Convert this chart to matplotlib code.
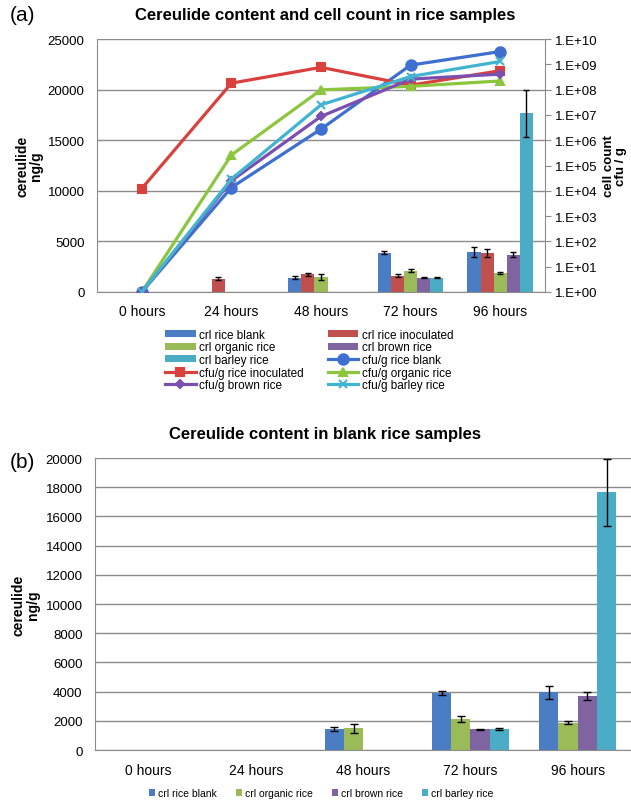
# -*- coding: utf-8 -*-
"""
Cereulide content and cell count in rice samples - two panel Excel-style chart.
"""
import numpy as np
import matplotlib; matplotlib.use("Agg")
import matplotlib.pyplot as plt
from matplotlib.ticker import FixedLocator, FuncFormatter

plt.rcParams["font.family"] = ["Liberation Sans", "DejaVu Sans"]

# ---- data ----
HOURS = ["0 hours", "24 hours", "48 hours", "72 hours", "96 hours"]

# cereulide ng/g (bars) and error bars
CRL_BLANK = [0, 0, 1420, 3900, 3950]
CRL_INOC = [0, 1320, 1750, 1590, 3830]
CRL_ORGANIC = [0, 0, 1480, 2120, 1870]
CRL_BROWN = [0, 0, 0, 1420, 3700]
CRL_BARLEY = [0, 0, 0, 1420, 17650]
ERR_BLANK = [0, 0, 150, 130, 450]
ERR_INOC = [0, 130, 170, 150, 400]
ERR_ORGANIC = [0, 0, 320, 180, 90]
ERR_BROWN = [0, 0, 0, 50, 280]
ERR_BARLEY = [0, 0, 0, 80, 2300]

# cell count cfu/g (lines, log axis)
CFU_BLANK = [1, 1.35e4, 2.75e6, 9.3e8, 3.2e9]
CFU_INOC = [1.23e4, 1.8e8, 7.6e8, 1.5e8, 5.6e8]
CFU_ORGANIC = [1, 2.6e5, 9.8e7, 1.35e8, 2.2e8]
CFU_BROWN = [1, 2.5e4, 8.7e6, 2.6e8, 4.1e8]
CFU_BARLEY = [1, 2.9e4, 2.5e7, 3.3e8, 1.3e9]

BLUE, RED, GREEN, PURPLE, AQUA = "#4A7DC4", "#C0504D", "#9BBB59", "#8064A2", "#4BACC6"
LBLUE, LRED, LGREEN, LPURPLE, LAQUA = "#3F6FD0", "#D9413F", "#8CC63F", "#7A4FB0", "#41B4D0"
GRID = "#8C8C8C"
TICK_FONT = ["Liberation Sans Narrow", "Liberation Sans", "DejaVu Sans"]

fig = plt.figure(figsize=(6.31, 8.04), dpi=100)
x = np.arange(len(HOURS))

def style_axis(ax, ymax, step):
    ax.set_xlim(-0.5, len(HOURS) - 0.5)
    ax.set_ylim(0, ymax)
    ax.set_yticks(np.arange(0, ymax + 1, step))
    ax.yaxis.grid(True, color=GRID, lw=1)
    ax.set_axisbelow(True)
    for s in ["top", "right"]:
        ax.spines[s].set_visible(False)
    for s in ["left", "bottom"]:
        ax.spines[s].set_color(GRID)
    ax.tick_params(axis="both", length=0, labelsize=9.5, pad=9)
    ax.set_xticks(x)
    ax.set_xticklabels(HOURS, family=TICK_FONT, fontsize=10)
    for t in ax.get_yticklabels():
        t.set_family(TICK_FONT)

# ---------- panel (a) ----------
ax1 = fig.add_axes([0.1537, 0.6356, 0.710, 0.3146])
style_axis(ax1, 25000, 5000)
w = 0.146
bars_a = [("crl rice blank", CRL_BLANK, ERR_BLANK, BLUE),
          ("crl rice inoculated", CRL_INOC, ERR_INOC, RED),
          ("crl organic rice", CRL_ORGANIC, ERR_ORGANIC, GREEN),
          ("crl brown rice", CRL_BROWN, ERR_BROWN, PURPLE),
          ("crl barley rice", CRL_BARLEY, ERR_BARLEY, AQUA)]
handles = []
for i, (lab, vals, err, col) in enumerate(bars_a):
    pos = x + (i - 2) * w
    h = ax1.bar(pos, vals, w, color=col, label=lab, zorder=2)
    e = np.array(err)
    m = e > 0
    ax1.errorbar(pos[m], np.array(vals)[m], yerr=e[m], fmt="none", ecolor="black",
                 elinewidth=1, capsize=2.5, zorder=3)
    handles.append(h)

ax2 = ax1.twinx()
ax2.set_yscale("log")
ax2.set_ylim(1, 1e10)
ax2.yaxis.set_major_locator(FixedLocator([10.0 ** k for k in range(11)]))
ax2.yaxis.set_minor_locator(FixedLocator([]))
ax2.yaxis.set_major_formatter(FuncFormatter(lambda v, p: "1.E+{:02d}".format(int(round(np.log10(v))))))
ax2.tick_params(axis="y", length=4, color=GRID, labelsize=9.5)
for t in ax2.get_yticklabels():
    t.set_family(TICK_FONT)
for s in ["top", "left", "bottom"]:
    ax2.spines[s].set_visible(False)
ax2.spines["right"].set_color(GRID)

lines_a = [("cfu/g rice blank", CFU_BLANK, LBLUE, "o", 7.5),
           ("cfu/g rice inoculated", CFU_INOC, LRED, "s", 6),
           ("cfu/g organic rice", CFU_ORGANIC, LGREEN, "^", 5.5),
           ("cfu/g brown rice", CFU_BROWN, LPURPLE, "D", 4.5),
           ("cfu/g barley rice", CFU_BARLEY, LAQUA, "x", 5.5)]
for lab, vals, col, mk, ms in lines_a:
    l, = ax2.plot(x, vals, color=col, lw=2.3, marker=mk, ms=ms, mew=1.5, label=lab)
    handles.append(l)

ax1.set_ylabel("cereulide\nng/g", fontsize=10, fontweight="bold", linespacing=1.0)
ax1.yaxis.set_label_coords(-0.12, 0.5)
ax2.set_ylabel("cell count\ncfu / g", fontsize=9.5, fontweight="bold", linespacing=0.95)
ax2.yaxis.set_label_coords(1.13, 0.5)
fig.text(0.515, 0.981, "Cereulide content and cell count in rice samples", fontsize=12,
         fontweight="bold", ha="center", va="center")
fig.text(0.016, 0.981, "(a)", fontsize=15, va="center")

# legend is read row-wise, matplotlib fills column-wise
order = [0, 2, 4, 6, 8, 1, 3, 5, 7, 9]
fig.legend([handles[k] for k in order], [handles[k].get_label() for k in order],
           ncol=2, loc="upper center", bbox_to_anchor=(0.49, 0.603), frameon=False,
           fontsize=8.5, handlelength=2.6, handleheight=0.5, labelspacing=0.05,
           columnspacing=2.0, handletextpad=0.3)

# ---------- panel (b) ----------
ax3 = fig.add_axes([0.1506, 0.0659, 0.85, 0.3632])
style_axis(ax3, 20000, 2000)
w = 0.18
bars_b = [("crl rice blank", CRL_BLANK, ERR_BLANK, BLUE),
          ("crl organic rice", CRL_ORGANIC, ERR_ORGANIC, GREEN),
          ("crl brown rice", CRL_BROWN, ERR_BROWN, PURPLE),
          ("crl barley rice", CRL_BARLEY, ERR_BARLEY, AQUA)]
for i, (lab, vals, err, col) in enumerate(bars_b):
    pos = x + (i - 1.5) * w
    ax3.bar(pos, vals, w, color=col, label=lab, zorder=2)
    e = np.array(err)
    m = e > 0
    ax3.errorbar(pos[m], np.array(vals)[m], yerr=e[m], fmt="none", ecolor="black",
                 elinewidth=1, capsize=3, zorder=3)
ax3.set_ylabel("cereulide\nng/g", fontsize=10, fontweight="bold", linespacing=1.0)
ax3.yaxis.set_label_coords(-0.103, 0.5)
fig.text(0.515, 0.459, "Cereulide content in blank rice samples", fontsize=12,
         fontweight="bold", ha="center", va="center")
fig.text(0.016, 0.425, "(b)", fontsize=15, va="center")
ax3.legend(ncol=4, loc="center", bbox_to_anchor=(0.509, 0.012),
           bbox_transform=fig.transFigure, frameon=False, fontsize=7.5,
           handlelength=0.6, handleheight=0.6, handletextpad=0.3, columnspacing=1.8)

fig.savefig("out.png", dpi=100)
